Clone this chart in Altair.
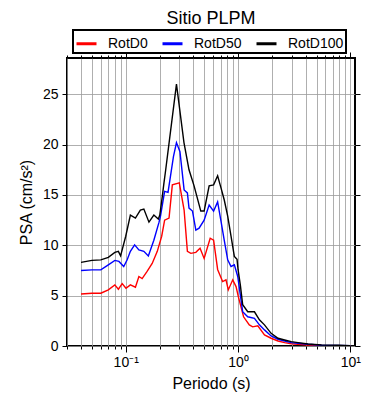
import altair as alt
import pandas as pd

# ---- data ----
series_names = ["RotD0", "RotD50", "RotD100"]
series_colors = ["#ff0000", "#0000ff", "#000000"]

period_d0 = [0.04, 0.05, 0.06, 0.07, 0.08, 0.086, 0.093, 0.1005, 0.11, 0.122, 0.131, 0.14, 0.155,
             0.172, 0.191, 0.209, 0.222, 0.243, 0.26, 0.30, 0.331, 0.354, 0.38, 0.421, 0.459,
             0.499, 0.565, 0.606, 0.658, 0.729, 0.781, 0.819, 0.897, 0.96, 1.006, 1.12, 1.26,
             1.35, 1.50, 1.72, 1.97, 2.27, 2.6, 2.98, 3.42, 4.21, 5.53, 7.81, 10.0]
psa_d0 = [5.17, 5.24, 5.24, 5.57, 6.07, 5.64, 6.2, 5.74, 6.07, 5.84, 6.9, 6.7, 7.4,
          8.2, 9.4, 10.9, 12.5, 12.7, 16.0, 16.2, 13.5, 9.4, 9.2, 9.3, 9.7,
          8.7, 10.7, 10.5, 7.6, 6.4, 6.57, 5.57, 6.57, 5.9, 4.9, 2.9, 2.1,
          1.9, 2.0, 1.1, 0.77, 0.5, 0.33, 0.23, 0.17, 0.1, 0.05, 0.03, 0.02]

period_d50 = [0.04, 0.05, 0.06, 0.07, 0.08, 0.087, 0.096, 0.103, 0.11, 0.12, 0.131, 0.145, 0.159,
              0.178, 0.198, 0.204, 0.222, 0.238, 0.266, 0.283, 0.304, 0.331, 0.354, 0.366, 0.393,
              0.421, 0.45, 0.499, 0.553, 0.606, 0.658, 0.705, 0.754, 0.809, 0.866, 0.927, 0.994,
              1.05, 1.10, 1.22, 1.40, 1.55, 1.72, 1.97, 2.27, 2.6, 2.98, 3.42, 4.21, 5.53, 7.81, 10.0]
psa_d50 = [7.5, 7.56, 7.56, 8.06, 8.5, 8.4, 7.9, 8.56, 9.4, 10.05, 9.55, 9.4, 8.95,
           10.5, 12.3, 12.9, 15.35, 15.25, 18.8, 20.2, 19.3, 15.5, 15.2, 13.7, 13.4,
           11.5, 11.7, 12.5, 14.0, 13.4, 14.3, 12.4, 10.5, 8.56, 7.9, 8.06, 6.9,
           5.0, 3.4, 2.9, 2.75, 2.1, 1.6, 1.0, 0.67, 0.5, 0.33, 0.27, 0.17, 0.07, 0.05, 0.03]

period_d100 = [0.04, 0.05, 0.06, 0.07, 0.08, 0.086, 0.09, 0.1, 0.11, 0.122, 0.135, 0.145, 0.161,
               0.178, 0.195, 0.201, 0.212, 0.219, 0.227, 0.283, 0.33, 0.366, 0.406, 0.466, 0.499,
               0.553, 0.606, 0.658, 0.705, 0.754, 0.809, 0.866, 0.927, 0.98, 1.0, 1.05, 1.10,
               1.22, 1.40, 1.55, 1.72, 1.97, 2.27, 2.6, 2.98, 3.42, 4.21, 5.53, 7.81, 10.0]
psa_d100 = [8.3, 8.5, 8.55, 8.8, 9.3, 9.4, 8.95, 10.9, 13.0, 12.7, 13.5, 13.6, 12.3,
            13.0, 12.6, 13.0, 14.9, 16.2, 17.5, 26.0, 20.2, 17.5, 15.9, 13.4, 13.4,
            15.9, 16.0, 16.9, 15.7, 14.5, 12.9, 10.9, 8.9, 8.6, 7.6, 6.0, 4.1,
            3.4, 3.4, 2.6, 2.1, 1.26, 0.77, 0.6, 0.43, 0.33, 0.2, 0.1, 0.07, 0.04]

major_ticks = [0.1, 1, 10]
minor_ticks = [0.03, 0.04, 0.05, 0.06, 0.07, 0.08, 0.09, 0.1, 0.2, 0.3, 0.4, 0.5, 0.6, 0.7, 0.8, 0.9,
               1, 2, 3, 4, 5, 6, 7, 8, 9, 10]
y_ticks = [0, 5, 10, 15, 20, 25]

rows = []
for name, per, val in [("RotD0", period_d0, psa_d0),
                       ("RotD50", period_d50, psa_d50),
                       ("RotD100", period_d100, psa_d100)]:
    for p, v in zip(per, val):
        rows.append({"Periodo": p, "PSA": v, "serie": name})
df = pd.DataFrame(rows)

FONT = "Liberation Sans"
xscale = alt.Scale(type="log", domain=[0.03, 11], nice=False)
yscale = alt.Scale(domain=[0, 28.6], nice=False, zero=False)
label_expr = "datum.value < 0.5 ? '10\u207b\u00b9' : (datum.value < 5 ? '10\u2070' : '10\u00b9')"

base = alt.Chart(df)

lines = base.mark_line(strokeWidth=1.4, clip=True).encode(
    x=alt.X("Periodo:Q", scale=xscale,
            axis=alt.Axis(orient="bottom", values=major_ticks, labelExpr=label_expr, tickSize=6,
                          grid=False, domain=False, title="Periodo (s)", labelFontSize=14,
                          titleFontSize=16, titleFontWeight="normal", labelPadding=3,
                          titlePadding=6, labelFont=FONT, titleFont=FONT, tickColor="black",
                          labelColor="black", titleColor="black", labelFlush=False)),
    y=alt.Y("PSA:Q", scale=yscale,
            axis=alt.Axis(orient="left", values=y_ticks, tickSize=5, grid=True, gridColor="#9a9a9a",
                          gridWidth=0.8, domain=False, title="PSA (cm/s²)", labelFontSize=14,
                          titleFontSize=16, titleFontWeight="normal", labelPadding=4,
                          titlePadding=8, labelFont=FONT, titleFont=FONT, tickColor="black",
                          labelColor="black", titleColor="black")),
    color=alt.Color("serie:N", scale=alt.Scale(domain=series_names, range=series_colors),
                    legend=alt.Legend(title=None, orient="none", legendX=6, legendY=-28,
                                      direction="horizontal", symbolType="stroke",
                                      symbolStrokeWidth=3, symbolSize=400, labelFontSize=14,
                                      labelFont=FONT, labelColor="black", labelOffset=10,
                                      columnPadding=8, padding=2, strokeColor="black",
                                      fillColor="white")),
    detail="serie:N",
)

ghost = base.mark_line(opacity=0)

minor_bottom = ghost.encode(
    x=alt.X("Periodo:Q", scale=xscale,
            axis=alt.Axis(orient="bottom", values=minor_ticks, tickSize=3, labels=False, title=None,
                          grid=True, gridColor="#9a9a9a", gridWidth=0.8, domain=False,
                          tickColor="black")),
    y=alt.Y("PSA:Q", scale=yscale,
            axis=alt.Axis(orient="right", values=y_ticks, tickSize=5, labels=False, title=None,
                          grid=False, domain=False, tickColor="black")),
    detail="serie:N",
)

major_top = ghost.encode(
    x=alt.X("Periodo:Q", scale=xscale,
            axis=alt.Axis(orient="top", values=major_ticks, tickSize=6, labels=False, title=None,
                          grid=False, domain=False, tickColor="black")),
    y=alt.Y("PSA:Q", scale=yscale, axis=None),
    detail="serie:N",
)

minor_top = ghost.encode(
    x=alt.X("Periodo:Q", scale=xscale,
            axis=alt.Axis(orient="top", values=minor_ticks, tickSize=3, labels=False, title=None,
                          grid=False, domain=False, tickColor="black")),
    y=alt.Y("PSA:Q", scale=yscale, axis=None),
    detail="serie:N",
)

chart = alt.layer(lines, minor_bottom, major_top, minor_top).resolve_axis(
    x="independent", y="independent"
).properties(
    width=288, height=288,
    title=alt.TitleParams("Sitio PLPM", fontSize=18, font=FONT, fontWeight="normal",
                          anchor="middle", offset=1, color="black"),
    autosize=alt.AutoSizeParams(type="none"),
    padding={"left": 59, "top": 50, "right": 27, "bottom": 46},
).configure_view(
    stroke="black", strokeWidth=2
).configure_legend(
    strokeWidth=2
)

chart.save("out.html", embed_options={"renderer": "svg", "actions": False})
